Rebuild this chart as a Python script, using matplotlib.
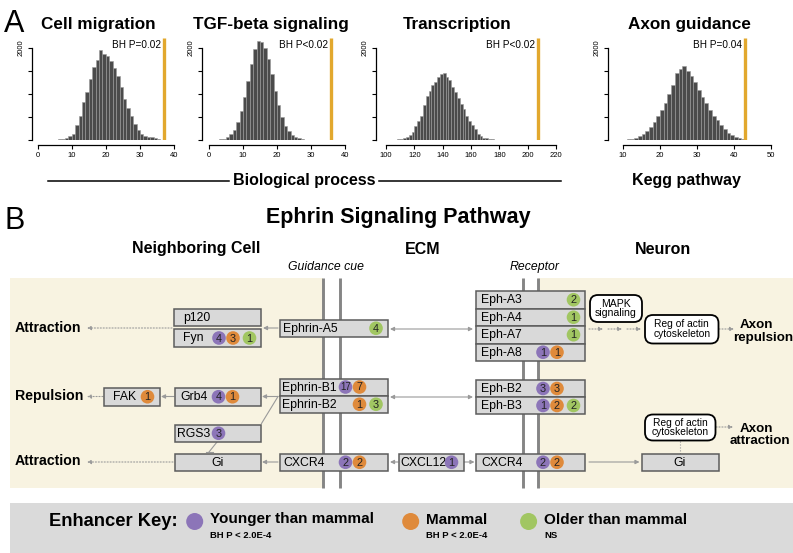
import matplotlib
matplotlib.use("Agg")
import numpy as np
import matplotlib.pyplot as plt
from matplotlib.patches import Rectangle, Circle, FancyBboxPatch

plt.rcParams['font.family'] = ['Liberation Sans', 'DejaVu Sans']

# ---------------- A: null distributions (bar heights per bin) ----------------
cellmig_start, cellmig_bin = 1, 1
cellmig_counts = [5, 8, 10, 12, 15, 22, 35, 60, 100, 140, 340, 530, 830, 1050, 1320, 1580,
                  1750, 1950, 1880, 1820, 1720, 1570, 1400, 1160, 900, 700, 530, 350, 220,
                  140, 105, 85, 70, 50, 30, 15, 6]
cellmig_obs, cellmig_p = 37, "BH P=0.02"

tgf_start, tgf_bin = 1, 1
tgf_counts = [10, 15, 25, 40, 70, 130, 230, 400, 640, 930, 1280, 1650, 1980, 2150, 2140,
              2000, 1760, 1430, 1080, 760, 500, 320, 200, 120, 75, 45, 28, 18, 10, 6, 4,
              3, 2, 2, 1]
tgf_obs, tgf_p = 36, "BH P<0.02"

transc_start, transc_bin = 100, 2
transc_counts = [5, 8, 10, 15, 22, 35, 50, 75, 110, 190, 310, 420, 530, 760, 960, 1060,
                 1200, 1270, 1370, 1440, 1450, 1370, 1300, 1150, 1040, 920, 790, 680, 540,
                 430, 330, 250, 150, 95, 60, 45, 38, 30, 20, 15, 10, 8, 6, 4]
transc_obs, transc_p = 207, "BH P<0.02"

axon_start, axon_bin = 8, 1
axon_counts = [5, 8, 14, 22, 38, 60, 95, 150, 215, 300, 400, 520, 660, 820, 1000, 1200,
               1450, 1550, 1620, 1500, 1390, 1260, 1100, 950, 800, 660, 540, 440, 330, 240,
               165, 110, 75, 50, 32, 20, 12, 8, 5, 4, 3, 2]
axon_obs, axon_p = 43, "BH P=0.04"

hist_titles = ["Cell migration", "TGF-beta signaling", "Transcription", "Axon guidance"]
hist_xticks = [[0, 10, 20, 30, 40], [0, 10, 20, 30, 40],
               [100, 120, 140, 160, 180, 200, 220], [10, 20, 30, 40, 50]]
hist_yticks = [0, 500, 1000, 1500, 2000]

# ---------------- B: enhancer counts per gene box ----------------
box_labels = ["p120", "Fyn", "Ephrin-A5", "FAK", "Grb4", "Ephrin-B1", "Ephrin-B2", "RGS3",
              "Gi", "CXCR4", "CXCL12", "CXCR4", "Gi",
              "Eph-A3", "Eph-A4", "Eph-A7", "Eph-A8", "Eph-B2", "Eph-B3"]
younger = [0, 4, 0, 0, 4, 17, 0, 3, 0, 2, 1, 2, 0, 0, 0, 0, 1, 3, 1]
mammal = [0, 3, 0, 1, 1, 7, 1, 0, 0, 2, 0, 2, 0, 0, 0, 0, 1, 3, 2]
older = [0, 1, 4, 0, 0, 0, 3, 0, 0, 0, 0, 0, 0, 2, 1, 1, 0, 0, 2]

key_labels = ["Younger than mammal", "Mammal", "Older than mammal"]
key_stats = ["BH P < 2.0E-4", "BH P < 2.0E-4", "NS"]

# ---------------- layout (pixels) ----------------
W, H = 793, 553
PURPLE, ORANGE, GREEN = "#8C75B8", "#DF8A3B", "#A1C662"
GOLD = "#E2A82E"
GREY = "#9A9A9A"

fig = plt.figure(figsize=(W / 100, H / 100), dpi=100)
ov = fig.add_axes([0, 0, 1, 1])
ov.set_xlim(0, W)
ov.set_ylim(H, 0)
ov.axis("off")


def hist_panel(counts, start, binw, ticks, obs, ptxt, title, v0, px0, ppu, axis_px, vmax, tcx):
    base, ppc, ytop = 140.5, 0.04625, 2250
    vmin = v0 - (px0 - axis_px) / ppu
    right_px = px0 + (vmax - v0) * ppu
    ax = fig.add_axes([axis_px / W, 1 - base / H, (right_px - axis_px) / W, ytop * ppc / H])
    ax.patch.set_visible(False)
    edges = start + binw * np.arange(len(counts))
    ax.bar(edges, counts, width=binw, align="edge", color="#4b4b4b",
           edgecolor="#9c9c9c", linewidth=0.4)
    ax.plot([obs, obs], [0, 2220], color=GOLD, lw=2.4, solid_capstyle="butt")
    ax.text(obs - 0.9 * (3.4 / ppu), 2075, ptxt, ha="right", va="center", fontsize=7.2)
    ax.set_xlim(vmin, vmax)
    ax.set_ylim(0, ytop)
    for s in ["top", "right"]:
        ax.spines[s].set_visible(False)
    ax.spines["left"].set_bounds(0, 2000)
    ax.spines["bottom"].set_position(("outward", 3.3))
    ax.spines["bottom"].set_bounds(ticks[0], ticks[-1])
    for s in ["left", "bottom"]:
        ax.spines[s].set_linewidth(0.9)
    ax.set_xticks(ticks)
    ax.set_xticklabels([str(t) for t in ticks], fontsize=5.5)
    ax.set_yticks(hist_yticks)
    ax.set_yticklabels(["", "", "", "", "2000"], fontsize=5.5, rotation=90, va="center")
    ax.tick_params(length=3, width=0.8, pad=2)
    fig.text(tcx / W, 1 - 24 / H, title, ha="center", va="center",
             fontsize=12.3, fontweight="bold")
    return ax


hist_panel(cellmig_counts, cellmig_start, cellmig_bin, hist_xticks[0], cellmig_obs, cellmig_p,
           hist_titles[0], 0, 37.7, 3.41, 31.7, 41, 98)
hist_panel(tgf_counts, tgf_start, tgf_bin, hist_xticks[1], tgf_obs, tgf_p,
           hist_titles[1], 0, 209, 3.40, 202, 41, 271)
hist_panel(transc_counts, transc_start, transc_bin, hist_xticks[2], transc_obs, transc_p,
           hist_titles[2], 100, 386, 1.417, 375.5, 222, 457)
hist_panel(axon_counts, axon_start, axon_bin, hist_xticks[3], axon_obs, axon_p,
           hist_titles[3], 10, 623, 3.70, 608, 51, 689)

ov.text(14, 24, "A", fontsize=22, ha="center", va="center")
ov.plot([48, 229], [181, 181], color="black", lw=1.1)
ov.plot([379, 561], [181, 181], color="black", lw=1.1)
ov.text(304, 181, "Biological process", fontsize=11.5, fontweight="bold", ha="center", va="center")
ov.text(686, 181, "Kegg pathway", fontsize=11.5, fontweight="bold", ha="center", va="center")

# ---------------- B ----------------
ov.text(15, 221, "B", fontsize=22, ha="center", va="center")
ov.text(398, 217, "Ephrin Signaling Pathway", fontsize=15.5, fontweight="bold",
        ha="center", va="center")
ov.text(196, 249, "Neighboring Cell", fontsize=11.5, fontweight="bold", ha="center", va="center")
ov.text(423, 249, "ECM", fontsize=11.5, fontweight="bold", ha="center", va="center")
ov.text(663, 249, "Neuron", fontsize=11.5, fontweight="bold", ha="center", va="center")
ov.text(326, 267, "Guidance cue", fontsize=8.8, style="italic", ha="center", va="center")
ov.text(535, 267, "Receptor", fontsize=8.8, style="italic", ha="center", va="center")

ov.add_patch(Rectangle((10, 278), 313, 210, fc="#F8F3E1", ec="none", zorder=0))
ov.add_patch(Rectangle((538, 278), W - 538, 210, fc="#F8F3E1", ec="none", zorder=0))
for mx in [323, 340, 523, 538]:
    ov.plot([mx, mx], [278, 488], color="#858585", lw=2.1, zorder=1, solid_capstyle="butt")

# box geometry: x0, y0, x1, y1, label x (None = centred)
box_geom = [
    (174, 309, 261, 326, 183), (174, 329, 261, 347, 183), (279.5, 319.5, 387.5, 337, 283),
    (104, 388, 159.5, 405.5, 113), (175, 388, 260.5, 405.5, 180),
    (279.5, 378.5, 387.5, 395.5, 282), (279.5, 395.5, 387.5, 413, 282),
    (175, 424.5, 260.5, 442, 176.5), (175, 453.5, 260.5, 471, None),
    (279.5, 453.5, 387.5, 471, 283), (398.5, 453.5, 463.5, 471, 400),
    (476, 453.5, 585, 471, 481), (641.5, 453.5, 718.5, 471, None),
    (476, 291, 585, 308.5, 481), (476, 308.5, 585, 326, 481), (476, 326, 585, 343.5, 481),
    (476, 343.5, 585, 361, 481), (476, 380, 585, 397, 481), (476, 397, 585, 414, 481),
]
col_off = {"y": -42, "m": -28, "o": -11.5}
single_right = {"FAK", "CXCL12"}

for i, lab in enumerate(box_labels):
    x0, y0, x1, y1, tx = box_geom[i]
    ov.add_patch(Rectangle((x0, y0), x1 - x0, y1 - y0, fc="#D9D9D9", ec="#5c5c5c",
                           lw=1.1, zorder=3))
    yc = (y0 + y1) / 2
    if tx is None:
        ov.text((x0 + x1) / 2, yc + 0.5, lab, fontsize=8.8, ha="center", va="center", zorder=4)
    else:
        ov.text(tx, yc + 0.5, lab, fontsize=8.8, ha="left", va="center", zorder=4)
    for key, n, col in [("y", younger[i], PURPLE), ("m", mammal[i], ORANGE), ("o", older[i], GREEN)]:
        if n == 0:
            continue
        cx = x1 + (-12 if lab in single_right else col_off[key])
        ov.add_patch(Circle((cx, yc), 6.8, fc=col, ec="none", zorder=5))
        ov.text(cx, yc + 0.5, str(n), fontsize=7.8 if n < 10 else 7, ha="center",
                va="center", color="#222222", zorder=6)


def arrow(x0, y0, x1, y1, ls="-", both=False):
    ov.annotate("", xy=(x1, y1), xytext=(x0, y0), zorder=2,
                arrowprops=dict(arrowstyle="<|-|>" if both else "-|>", color=GREY, lw=0.8,
                                ls=ls, mutation_scale=6, shrinkA=0, shrinkB=0))


arrow(278, 328, 263, 328)
arrow(172, 328, 87, 328, ls=":")
arrow(278, 396.5, 262, 396.5)
ov.plot([278, 261.5], [396.5, 423.5], color=GREY, lw=0.8, zorder=2)
arrow(174, 396.5, 161, 396.5)
arrow(103, 396.5, 87, 396.5, ls=":")
ov.plot([217, 209], [442, 452], color=GREY, lw=0.8, zorder=2)
ov.plot([205.5, 212.5], [452, 452], color=GREY, lw=0.8, zorder=2)
arrow(278, 462, 262, 462)
arrow(173, 462, 87, 462, ls=":")
arrow(398, 462, 390, 462)
arrow(464, 462, 474.5, 462)
arrow(390, 329, 473, 329, both=True)
arrow(390, 397, 473, 397, both=True)
for sx in [589, 608, 627]:
    arrow(sx, 329, sx + 14, 329, ls=":")
arrow(719, 329, 734, 329, ls=":")
arrow(716, 427, 733, 427, ls=":")
ov.plot([680, 680], [441, 453.5], color=GREY, lw=0.8, ls=":", zorder=2)
arrow(589, 462, 639.5, 462)


def rbox(x0, y0, x1, y1, txt, fs):
    ov.add_patch(FancyBboxPatch((x0 + 4, y0 + 4), x1 - x0 - 8, y1 - y0 - 8,
                                boxstyle="round,pad=4,rounding_size=8", fc="white",
                                ec="black", lw=1.3, zorder=3))
    ov.text((x0 + x1) / 2, (y0 + y1) / 2, txt, fontsize=fs, ha="center", va="center",
            linespacing=0.95, zorder=4)


rbox(590, 295, 642, 322, "MAPK\nsignaling", 7.6)
rbox(645, 315, 718.5, 343.5, "Reg of actin\ncytoskeleton", 7.4)
rbox(645, 414.5, 715.5, 440.5, "Reg of actin\ncytoskeleton", 7.4)

for y, s in [(327.5, "Attraction"), (396, "Repulsion"), (461, "Attraction")]:
    ov.text(15, y, s, fontsize=10.2, fontweight="bold", ha="left", va="center")
ov.text(756, 325.5, "Axon", fontsize=9.6, fontweight="bold", ha="center", va="center")
ov.text(763, 338.5, "repulsion", fontsize=9.6, fontweight="bold", ha="center", va="center")
ov.text(756, 428.5, "Axon", fontsize=9.6, fontweight="bold", ha="center", va="center")
ov.text(760, 441.5, "attraction", fontsize=9.6, fontweight="bold", ha="center", va="center")

# ---------------- key ----------------
ov.add_patch(Rectangle((10, 503), W - 10, 50, fc="#DADADA", ec="none", zorder=0))
ov.text(49, 521, "Enhancer Key:", fontsize=13.2, fontweight="bold", ha="left", va="center")
for cx, col, lab, st in zip([194.7, 410.7, 528.6], [PURPLE, ORANGE, GREEN], key_labels, key_stats):
    ov.add_patch(Circle((cx, 521.5), 8.5, fc=col, ec="none", zorder=2))
    ov.text(cx + 15.5, 519.5, lab, fontsize=11, fontweight="bold", ha="left", va="center")
    ov.text(cx + 15.5, 535, st, fontsize=6.8, fontweight="bold", ha="left", va="center")

fig.savefig("out.png", dpi=100)
